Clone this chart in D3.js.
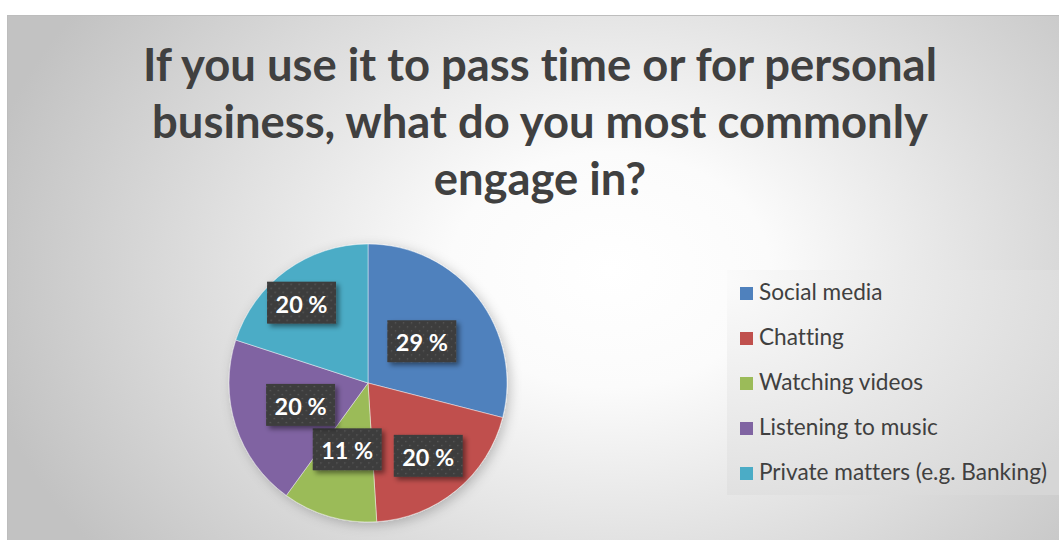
<!DOCTYPE html>
<html><head><meta charset="utf-8">
<script src="https://cdn.jsdelivr.net/npm/d3@7"></script>
<style>html,body{margin:0;padding:0;background:#fff;}svg{display:block;}
text{font-variant-ligatures:none;font-feature-settings:"liga" 0, "clig" 0, "dlig" 0;}</style>
</head><body>
<svg id="chart" width="1059" height="540"></svg>
<script>
const titleLines = ["If you use it to pass time or for personal", "business, what do you most commonly", "engage in?"];
const categories = ["Social media", "Chatting", "Watching videos", "Listening to music", "Private matters (e.g. Banking)"];
const values = [29, 20, 11, 20, 20];
const labels = ["29 %", "20 %", "11 %", "20 %", "20 %"];
const colors = ["#4F81BD", "#C0504D", "#9BBB59", "#8064A2", "#4BACC6"];
// label placement (layout): radius fraction and position within slice angle
const labelRadiusFrac = [0.49, 0.68, 0.50, 0.51, 0.75];
const labelAngleFrac = [0.5, 0.5, 0.53, 0.5, 0.45];

const svg = d3.select("#chart");
const W = 1059, H = 540;
const defs = svg.append("defs");

// background radial gradient
const bg = defs.append("radialGradient").attr("id", "bgGrad")
  .attr("gradientUnits", "userSpaceOnUse")
  .attr("cx", 0).attr("cy", 0).attr("r", 1)
  .attr("gradientTransform", "translate(610,270) scale(640,470)");
bg.append("stop").attr("offset", 0).attr("stop-color", "#ffffff");
bg.append("stop").attr("offset", 0.25).attr("stop-color", "#fbfbfb");
bg.append("stop").attr("offset", 1).attr("stop-color", "#c2c2c2");

const lg = defs.append("radialGradient").attr("id", "legGrad")
  .attr("gradientUnits", "userSpaceOnUse")
  .attr("cx", 0).attr("cy", 0).attr("r", 1)
  .attr("gradientTransform", "translate(720,280) scale(420,300)");
lg.append("stop").attr("offset", 0).attr("stop-color", "#fbfbfb");
lg.append("stop").attr("offset", 1).attr("stop-color", "#d6d6d6");

// dotted pattern for labels
const pat = defs.append("pattern").attr("id", "dots").attr("patternUnits", "userSpaceOnUse")
  .attr("width", 8).attr("height", 8);
pat.append("rect").attr("width", 8).attr("height", 8).attr("fill", "#3d3d3d");
pat.append("rect").attr("x", 1).attr("y", 1).attr("width", 1.3).attr("height", 1.3).attr("fill", "#5c5c5c");
pat.append("rect").attr("x", 5).attr("y", 5).attr("width", 1.3).attr("height", 1.3).attr("fill", "#5c5c5c");

const pieShadow = defs.append("filter").attr("id", "pieShadow")
  .attr("x", "-20%").attr("y", "-20%").attr("width", "140%").attr("height", "140%");
pieShadow.append("feDropShadow").attr("dx", 3).attr("dy", 3).attr("stdDeviation", 6)
  .attr("flood-color", "#000").attr("flood-opacity", 0.22);

const boxShadow = defs.append("filter").attr("id", "boxShadow")
  .attr("x", "-30%").attr("y", "-30%").attr("width", "160%").attr("height", "160%");
boxShadow.append("feDropShadow").attr("dx", 3).attr("dy", 3).attr("stdDeviation", 2.5)
  .attr("flood-color", "#000").attr("flood-opacity", 0.45);

svg.append("rect").attr("x", 7.5).attr("y", 15.5).attr("width", W + 10).attr("height", H + 10)
  .attr("fill", "url(#bgGrad)").attr("stroke", "#bdbdbd").attr("stroke-width", 1);

// title
const fontFam = "Lato, 'Open Sans', sans-serif";
const title = svg.append("g").attr("font-family", fontFam).attr("font-weight", 700)
  .attr("fill", "#404040").attr("text-anchor", "middle");
const titleTexts = title.selectAll("text").data(titleLines).join("text")
  .attr("x", 540).attr("y", (d, i) => 81 + i * 57)
  .attr("font-size", 48).text(d => d);
const w0 = titleTexts.nodes()[0].getComputedTextLength();
const tScale = 794 / w0;
titleTexts.attr("font-size", 48 * tScale);

// pie
const cx = 368, cy = 383, R = 139;
const pie = d3.pie().sort(null).value(d => d)(values);
const arc = d3.arc().innerRadius(0).outerRadius(R);
const pg = svg.append("g").attr("transform", `translate(${cx},${cy})`);
pg.append("g").attr("filter", "url(#pieShadow)")
  .selectAll("path").data(pie).join("path")
  .attr("d", arc).attr("fill", (d, i) => colors[i])
  .attr("stroke", "rgba(255,255,255,0.55)").attr("stroke-width", 0.8);

// data labels
const lblG = pg.append("g").attr("font-family", fontFam).attr("font-weight", 700);
pie.forEach((d, i) => {
  const a = d.startAngle + labelAngleFrac[i] * (d.endAngle - d.startAngle);
  const r = labelRadiusFrac[i] * R;
  const x = r * Math.sin(a), y = -r * Math.cos(a);
  const g = lblG.append("g").attr("transform", `translate(${x},${y})`);
  const rect = g.append("rect").attr("fill", "url(#dots)").attr("filter", "url(#boxShadow)");
  const t = g.append("text").attr("text-anchor", "middle").attr("dominant-baseline", "central")
    .attr("fill", "#fff").attr("font-size", 22).text(labels[i]);
  const tw = t.node().getComputedTextLength();
  const s = 52 / tw;
  t.attr("font-size", 22 * s);
  const bw = 69, bh = 42;
  rect.attr("x", -bw / 2).attr("y", -bh / 2).attr("width", bw).attr("height", bh);
  t.attr("y", 1);
});

// legend
const leg = svg.append("g");
leg.append("rect").attr("x", 727).attr("y", 270).attr("width", 340).attr("height", 225)
  .attr("fill", "url(#legGrad)");
const rows = leg.selectAll("g.row").data(categories).join("g").attr("class", "row")
  .attr("transform", (d, i) => `translate(0,${300 + i * 45})`);
rows.append("rect").attr("x", 740).attr("y", -13).attr("width", 13).attr("height", 13)
  .attr("fill", (d, i) => colors[i]);
const legTexts = rows.append("text").attr("x", 759).attr("y", 0)
  .attr("font-family", fontFam).attr("font-size", 21).attr("fill", "#404040").text(d => d);
const lw = legTexts.nodes()[4].getComputedTextLength();
legTexts.attr("font-size", 21 * 288 / lw);
</script>
</body></html>
